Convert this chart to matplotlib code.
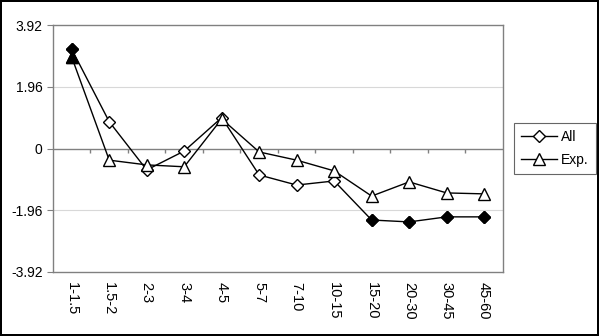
import matplotlib
matplotlib.use("Agg")
import matplotlib.pyplot as plt
import numpy as np

# categories and series values
categories = ["1-1.5", "1.5-2", "2-3", "3-4", "4-5", "5-7", "7-10",
              "10-15", "15-20", "20-30", "30-45", "45-60"]
all_vals = [3.15, 0.85, -0.68, -0.08, 0.98, -0.84, -1.16, -1.03,
            -2.27, -2.33, -2.17, -2.17]
exp_vals = [2.90, -0.37, -0.52, -0.58, 0.94, -0.11, -0.37, -0.71,
            -1.51, -1.06, -1.41, -1.44]
yticks = [-3.92, -1.96, 0, 1.96, 3.92]
ytick_labels = ["-3.92", "-1.96", "0", "1.96", "3.92"]
crit = 1.96

plt.rcParams['font.family'] = ['Liberation Sans', 'DejaVu Sans']

fig = plt.figure(figsize=(5.99, 3.36), dpi=100)
fig.patch.set_edgecolor("black")
fig.patch.set_linewidth(1.5)
ax = fig.add_axes([0.0885, 0.1905, 0.751, 0.735])

x = np.arange(len(categories))


def draw_series(vals, marker, ms, label):
    vals = np.array(vals)
    ax.plot(x, vals, color="black", lw=1.0, marker=marker, ms=ms,
            mfc="white", mec="black", mew=1.0, label=label, zorder=3)
    sig = np.abs(vals) > crit
    ax.plot(x[sig], vals[sig], ls="none", marker=marker, ms=ms,
            mfc="black", mec="black", mew=1.0, zorder=4)


draw_series(all_vals, "D", 6.5, "All")
draw_series(exp_vals, "^", 8, "Exp.")

ax.set_xlim(-0.5, len(categories) - 0.5)
ax.set_ylim(yticks[0], yticks[-1])
ax.set_yticks(yticks)
ax.set_yticklabels(ytick_labels, fontsize=10)
ax.set_xticks(x)
ax.set_xticklabels(categories, rotation=-90, fontsize=10.5)
ax.tick_params(axis="x", length=0, pad=7)
ax.tick_params(axis="y", length=4, color="#808080", direction="out")

# gridlines and zero axis with boundary ticks
for yv in [-crit, crit]:
    ax.axhline(yv, color="#d8d8d8", lw=0.8, zorder=1)
ax.axhline(0, color="#808080", lw=1.0, zorder=2)
bounds = np.arange(len(categories) + 1) - 0.5
ax.vlines(bounds[1:-1], -0.13, 0, color="#808080", lw=1.0, zorder=2)

for s in ax.spines.values():
    s.set_color("#808080")
    s.set_linewidth(1.0)

leg = ax.legend(loc="center left", bbox_to_anchor=(1.025, 0.5), fontsize=10,
                frameon=True, fancybox=False, edgecolor="#404040",
                handlelength=2.6, borderpad=0.5, labelspacing=0.6,
                handletextpad=0.3, borderaxespad=0)
leg.get_frame().set_linewidth(0.8)

fig.savefig("out.png", dpi=100)
